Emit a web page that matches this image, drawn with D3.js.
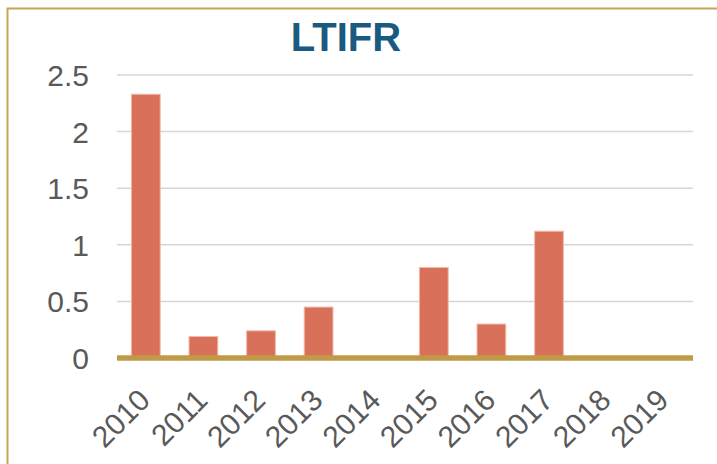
<!DOCTYPE html>
<html>
<head>
<meta charset="utf-8">
<script src="https://cdn.jsdelivr.net/npm/d3@7/dist/d3.min.js"></script>
<style>
  html, body { margin: 0; padding: 0; background: #fff; }
  svg { display: block; }
</style>
</head>
<body>
<svg id="chart" width="717" height="464"></svg>
<script>
const years = ["2010","2011","2012","2013","2014","2015","2016","2017","2018","2019"];
const ltifr = [2.33, 0.19, 0.24, 0.45, 0, 0.80, 0.30, 1.12, 0, 0];
const yTicks = [0, 0.5, 1, 1.5, 2, 2.5];
const yTickLabels = ["0", "0.5", "1", "1.5", "2", "2.5"];
const chartTitle = "LTIFR";

(function () {
const svg = d3.select("#chart");
const mLeft = 117, mRight = 693, mTop = 75, mBottom = 358;

// border
svg.append("rect")
  .attr("x", 7.5).attr("y", 8.5)
  .attr("width", 800).attr("height", 800)
  .attr("fill", "none")
  .attr("stroke", "#C8A550")
  .attr("stroke-width", 2);

const x = d3.scaleBand().domain(years).range([mLeft, mRight])
  .paddingInner(0.5).paddingOuter(0.25);
const y = d3.scaleLinear().domain([0, 2.5]).range([mBottom, mTop]);

// gridlines
svg.append("g").selectAll("line")
  .data(yTicks.filter(d => d > 0))
  .join("line")
  .attr("x1", mLeft).attr("x2", mRight)
  .attr("y1", d => y(d)).attr("y2", d => y(d))
  .attr("stroke", "#D6D6D6")
  .attr("stroke-width", 1.5);

// y labels
const yAxis = d3.axisLeft(y).tickValues(yTicks)
  .tickFormat((d, i) => yTickLabels[i]).tickSize(0).tickPadding(0);
const yg = svg.append("g").attr("transform", `translate(89,0)`).call(yAxis);
yg.select(".domain").remove();
yg.selectAll("text")
  .attr("font-family", "Arial, 'Liberation Sans', sans-serif")
  .attr("font-size", 30)
  .attr("fill", "#595959")
  .attr("dy", "0.35em");

// bars
svg.append("g").selectAll("rect")
  .data(years.map((yr, i) => ({ yr, v: ltifr[i] })).filter(d => d.v > 0))
  .join("rect")
  .attr("x", d => x(d.yr))
  .attr("y", d => y(d.v))
  .attr("width", x.bandwidth())
  .attr("height", d => y(0) - y(d.v))
  .attr("fill", "#D9705A")
  .attr("stroke", "#F2B9AC")
  .attr("stroke-width", 1);

// baseline
svg.append("line")
  .attr("x1", mLeft).attr("x2", mRight)
  .attr("y1", y(0)).attr("y2", y(0))
  .attr("stroke", "#C19A48")
  .attr("stroke-width", 5.5);

// x labels
const xAxis = d3.axisBottom(x).tickSize(0).tickPadding(0);
const xg = svg.append("g").attr("transform", `translate(0,${mBottom})`).call(xAxis);
xg.select(".domain").remove();
xg.selectAll("text")
  .attr("font-family", "Arial, 'Liberation Sans', sans-serif")
  .attr("font-size", 30)
  .attr("fill", "#595959")
  .attr("text-anchor", "end")
  .attr("dy", null)
  .attr("y", 0)
  .attr("transform", "translate(6,44) rotate(-45)");

// title
svg.append("text")
  .attr("x", 346).attr("y", 51)
  .attr("text-anchor", "middle")
  .attr("font-family", "Arial, 'Liberation Sans', sans-serif")
  .attr("font-weight", "bold")
  .attr("font-size", 40)
  .attr("fill", "#1B5A80")
  .text(chartTitle);
})();
</script>
</body>
</html>
